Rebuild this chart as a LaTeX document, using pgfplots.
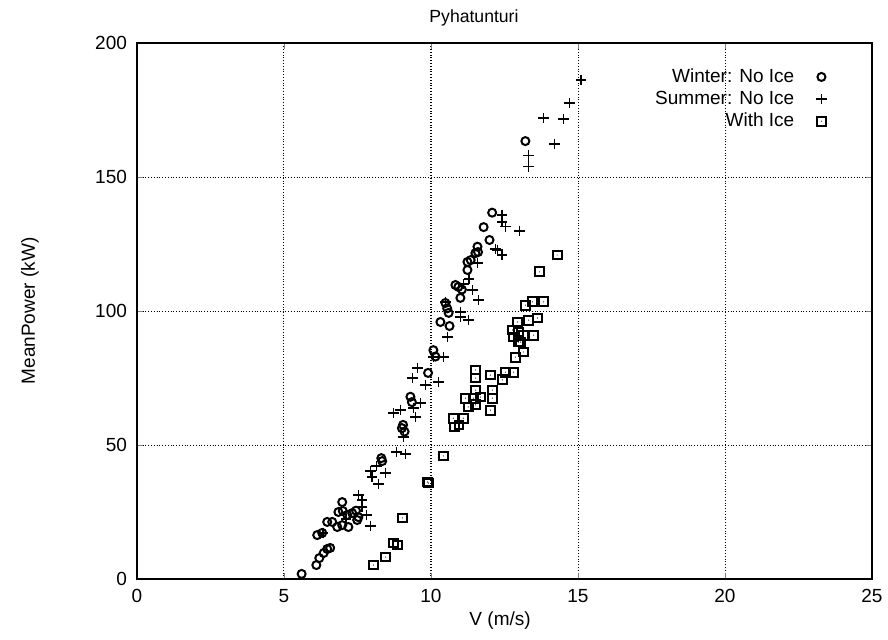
\documentclass[border=0pt]{standalone}
\usepackage{pgfplots}
\pgfplotsset{compat=1.18}
\usepackage{fontspec}
\setmainfont{Liberation Sans}
\pgfdeclareplotmark{sqdot}{%
  \pgfpathrectangle{\pgfpoint{-\pgfplotmarksize}{-\pgfplotmarksize}}{\pgfpoint{2\pgfplotmarksize}{2\pgfplotmarksize}}%
  \pgfusepathqstroke
  \pgfpathcircle{\pgfpointorigin}{0.3pt}\pgfusepathqfill}
\begin{document}
\begin{tikzpicture}
\begin{axis}[
  scale only axis, width=367.5pt, height=268pt,
  xmin=0, xmax=25, ymin=0, ymax=200,
  xtick={0,5,...,25}, ytick={0,50,...,200},
  tick align=inside, xtick pos=both, ytick pos=both,
  major tick length=3pt,
  grid=major, grid style={black, densely dotted, line width=0.5pt},
  axis line style={black, line width=0.8pt},
  /pgf/number format/assume math mode=true,
  tick label style={font=\fontsize{9.5}{11}\selectfont},
  xticklabel style={yshift=-1.5pt},
  yticklabel style={xshift=-1.5pt},
  title={Pyhatunturi},
  title style={font=\fontsize{8.8}{10}\selectfont, at={(0.4585,1)}, anchor=center, yshift=6.5pt},
  xlabel={V (m/s)},
  xlabel style={font=\fontsize{9.5}{11}\selectfont, at={(0.494,0)}, anchor=center, yshift=-21pt},
  ylabel={MeanPower (kW)},
  ylabel style={font=\fontsize{9.5}{11}\selectfont, at={(0,0.5)}, anchor=center, yshift=53.5pt},
  legend style={draw=none, fill=none, at={(0.947,0.968)}, anchor=north east,
    font=\fontsize{9.5}{11}\selectfont, row sep=-1.2pt,
    /tikz/every odd column/.append style={column sep=9pt}},
  legend cell align=right, legend plot pos=right,
]
\coordinate (ll) at (rel axis cs:0,0);
\coordinate (ur) at (rel axis cs:1,1);
\addplot[only marks, mark=o, mark size=2pt, mark options={line width=1pt, black}] coordinates {
(5.6,1.9) (6.1,5.2) (6.2,7.8) (6.35,9.7) (6.47,11.2) (6.57,11.6) (6.13,16.4) (6.3,17.2)
(6.47,21.3) (6.64,21.3) (6.81,19.4) (6.98,20.1) (6.85,25) (7.0,25.4) (6.98,28.7) (7.15,23.9)
(7.32,24.6) (7.19,19.4) (7.49,22) (7.53,23.1) (7.45,25.5) (8.31,45.1) (8.34,44) (9.01,56.3)
(9.05,57.5) (9.1,55) (9.3,68) (9.35,66) (9.9,76.9) (10.08,85.4) (10.15,83) (10.32,95.9)
(10.63,94.4) (10.49,103) (10.6,99.3) (10.55,101) (10.83,109.7) (10.93,109) (11.0,104.9)
(11.05,108) (11.24,118.3) (11.24,115.3) (11.35,119) (11.51,121.6) (11.58,124) (11.6,122)
(11.79,131.3) (11.99,126.5) (12.08,136.7) (13.21,163.4)
};
\addlegendentry{Winter: No Ice}
\addplot[only marks, mark=+, mark size=2.6pt, mark options={line width=0.8pt, black}] coordinates {
(15.11,186.2) (14.71,177.6) (14.5,171.6) (13.82,172) (14.2,162.3) (13.31,158) (13.31,153.9)
(12.42,135.8) (12.42,133.2) (12.53,131.5) (13.01,129.9) (12.19,123.1) (12.42,120.9) (12.26,122.8)
(11.58,117.9) (11.41,107.8) (11.61,104.1) (10.49,103.4) (11.0,99.6) (11.0,97.8) (11.27,96.6)
(10.56,90.3) (10.08,82.8) (10.42,82.8) (9.54,78.7) (9.37,75) (9.81,72.4) (10.25,73.5)
(8.96,63.1) (9.4,63.8) (9.64,65.7) (9.47,60.5) (8.72,61.9) (9.06,53) (8.82,47.4) (9.13,46.6)
(8.14,42.2) (7.94,40.3) (8.45,39.6) (8.0,38.1) (8.21,35.4) (7.53,31.3) (7.66,29.5) (7.66,26.9)
(7.8,23.9) (7.94,19.8) (6.33,17.2) (7.1,22.5) (11.1,110) (11.3,112)
};
\addlegendentry{Summer: No Ice}
\addplot[only marks, mark=sqdot, mark size=2.2pt, mark options={line width=1pt, black}] coordinates {
(8.04,5.2) (8.45,8.2) (8.72,13.4) (8.86,12.7) (9.03,22.8) (9.88,36.2) (9.91,35.8) (10.42,45.9)
(10.8,56.7) (10.76,60) (11.1,60) (11.17,67.5) (11.44,67.5) (11.27,64.2) (11.51,65) (11.68,67.9)
(11.51,70.5) (11.51,75) (11.51,78) (12.02,63) (12.09,67.5) (12.09,70.5) (12.02,76.1) (12.43,74.3)
(12.53,77.2) (12.81,77.2) (13.15,84.7) (13.05,88.4) (12.87,82.8) (12.81,90.3) (12.98,88.4)
(13.15,91) (13.49,91) (12.98,92.2) (12.77,92.9) (12.94,95.9) (13.32,96.6) (13.62,97.4)
(13.21,102.2) (13.45,103.4) (13.83,103.4) (13.69,114.6) (14.29,120.9) (10.95,57.5)
};
\addlegendentry{With Ice}
\end{axis}
\pgfresetboundingbox
\path ([shift={(-68.5pt,-30pt)}]ll) rectangle ([shift={(8pt,21.5pt)}]ur);
\end{tikzpicture}
\end{document}
